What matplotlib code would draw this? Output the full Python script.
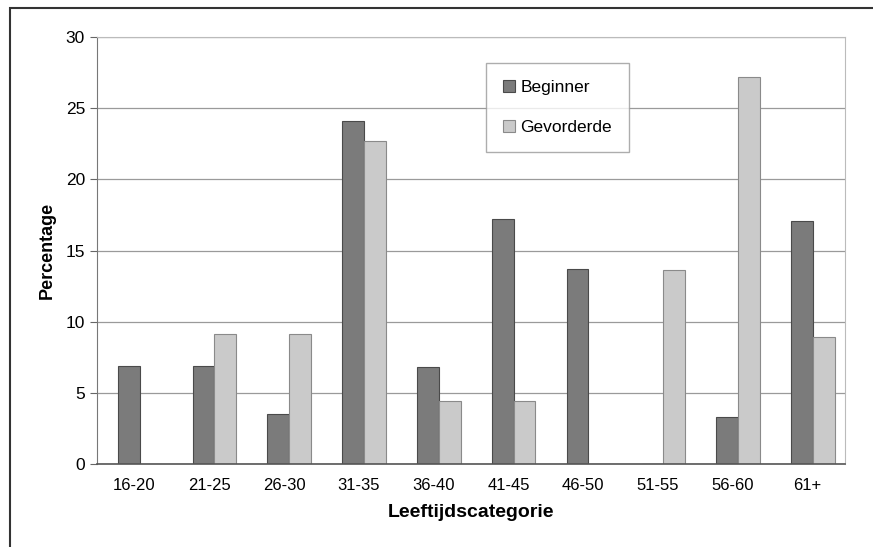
import numpy as np
import matplotlib.pyplot as plt
from matplotlib.patches import Rectangle

categories = ["16-20", "21-25", "26-30", "31-35", "36-40", "41-45", "46-50", "51-55", "56-60", "61+"]
beginner = [6.9, 6.9, 3.5, 24.1, 6.8, 17.2, 13.7, 0, 3.3, 17.1]
gevorderde = [0, 9.1, 9.1, 22.7, 4.4, 4.4, 0, 13.6, 27.2, 8.9]

plt.rcParams['font.family'] = ['Liberation Sans', 'DejaVu Sans']

fig = plt.figure(figsize=(8.73, 5.47), dpi=100)
ax = fig.add_axes([0.111, 0.152, 0.857, 0.780])

x = np.arange(len(categories))
w = 0.29
ax.bar(x - w / 2 + 0.07, beginner, w, color="#7b7b7b", edgecolor="#4a4a4a", linewidth=0.8, label="Beginner", zorder=3)
ax.bar(x + w / 2 + 0.07, gevorderde, w, color="#cacaca", edgecolor="#8a8a8a", linewidth=0.8, label="Gevorderde", zorder=3)

ax.set_xlim(-0.5, len(categories) - 0.5)
ax.set_ylim(0, 30)
ax.set_yticks(np.arange(0, 31, 5))
ax.set_xticks(x)
ax.set_xticklabels(categories, fontsize=12)
ax.tick_params(axis="y", labelsize=12.5, length=5, color="#666666")
ax.tick_params(axis="x", length=0, pad=10)
ax.yaxis.grid(True, color="#9a9a9a", linewidth=0.9, zorder=0)

for s in ["top", "right"]:
    ax.spines[s].set_color("#bbbbbb")
ax.spines["left"].set_color("#777777")
ax.spines["bottom"].set_color("#555555")
ax.spines["bottom"].set_linewidth(1.2)
ax.spines["bottom"].set_zorder(4)

ax.set_ylabel("Percentage", fontsize=13, fontweight="bold", labelpad=7)
ax.set_xlabel("Leeftijdscategorie", fontsize=14, fontweight="bold", labelpad=8)

leg = ax.legend(loc="upper left", bbox_to_anchor=(0.508, 0.96), fontsize=12.5, frameon=True,
                fancybox=False, edgecolor="#999999", handlelength=0.7, handleheight=0.7,
                handletextpad=0.3, labelspacing=1.4, borderpad=1.0)

# outer frame of the scanned figure
fig.patches.append(Rectangle((0.011, -0.01), 1.2, 0.996, transform=fig.transFigure,
                             fill=False, edgecolor="#333333", linewidth=1.5))

fig.savefig("out.png", dpi=100)
